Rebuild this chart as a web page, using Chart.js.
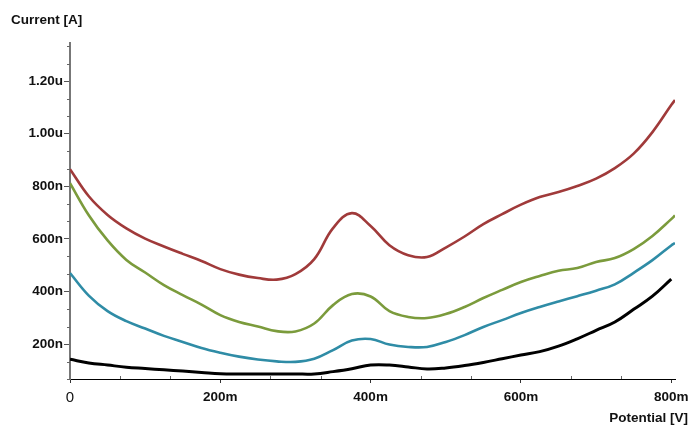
<!DOCTYPE html>
<html>
<head>
<meta charset="utf-8">
<script src="https://cdn.jsdelivr.net/npm/chart.js@4.4.0/dist/chart.umd.min.js"></script>
<style>
  body { margin: 0; background: #fff; }
  canvas { display: block; }
</style>
</head>
<body>
<canvas id="ivChart" width="691" height="426"></canvas>
<script>
// potential in mV, currents in nA
var potential = [0,25,50,75,100,125,150,175,200,225,250,275,300,325,350,375,400,
                 425,450,475,500,525,550,575,600,625,650,675,700,725,750,775,800,805];

var curRed   = [865,762,691,640,601,571,543,516,485,464,451,445,466,523,641,698,649,
                576,538,531,567,609,656,694,730,759,778,801,829,869,924,1006,1109,1128];
var curGreen = [812,690,594,520,472,424,386,350,310,284,267,249,248,278,348,390,381,
                325,303,299,314,341,375,406,436,459,479,489,512,527,561,611,675,689];
var curBlue  = [470,384,325,287,259,231,208,185,167,152,141,134,132,144,177,213,219,
                198,189,189,208,234,265,291,318,341,362,382,403,427,471,519,575,584];
var curBlack = [142,128,120,112,107,102,97,92,87,86,86,86,86,86,95,106,120,
                120,113,105,109,118,130,144,158,171,192,220,252,284,332,382,447,null];

var xTicks = [0,200,400,600,800];
var yTicks = [200,400,600,800,1000,1200];

var FONT = "'Liberation Sans', Arial, sans-serif";

function mkSet(vals, color, w){
  return {
    data: vals,
    borderColor: color,
    borderWidth: w,
    pointRadius: 0,
    fill: false,
    tension: 0.4,
    spanGaps: false
  };
}

// minor ticks + axis titles
var decor = {
  id: 'decor',
  afterDraw: function(chart){
    var c = chart.ctx, xs = chart.scales.x, ys = chart.scales.y;
    var step = 200/3;
    c.save();
    c.strokeStyle = '#666';
    c.lineWidth = 1;
    for (var k = 1; k * step < 805; k++) {
      if (k % 3 == 0) continue;
      var px = Math.round(xs.getPixelForValue(k*step)) + 0.5;
      c.beginPath(); c.moveTo(px, xs.top); c.lineTo(px, xs.top - 3); c.stroke();
    }
    for (var j = 1; j * step < 1340; j++) {
      if (j % 3 == 0) continue;
      var py = Math.round(ys.getPixelForValue(j*step)) + 0.5;
      c.beginPath(); c.moveTo(ys.right - 3, py); c.lineTo(ys.right, py); c.stroke();
    }
    c.fillStyle = '#111';
    c.font = 'bold 13.5px ' + FONT;
    c.textBaseline = 'alphabetic';
    c.textAlign = 'left';
    c.fillText('Current [A]', 11, 24);
    c.textAlign = 'right';
    c.fillText('Potential [V]', 688, 422);
    c.restore();
  }
};

new Chart(document.getElementById('ivChart'), {
  type: 'line',
  data: {
    labels: potential,
    datasets: [
      mkSet(curRed,   '#a03a3a', 2.6),
      mkSet(curGreen, '#7b9b3c', 2.6),
      mkSet(curBlue,  '#2f8ca6', 2.6),
      mkSet(curBlack, '#000000', 3)
    ]
  },
  plugins: [decor],
  options: {
    responsive: false,
    animation: false,
    layout: { padding: { left: 0, right: 16, top: 43, bottom: 0 } },
    plugins: { legend: { display: false }, tooltip: { enabled: false } },
    scales: {
      x: {
        type: 'linear',
        min: 0, max: 805,
        border: { color: '#000', width: 1 },
        grid: { drawOnChartArea: false, drawTicks: true, tickLength: 4, color: '#333' },
        afterBuildTicks: function(s){ s.ticks = xTicks.map(function(v){ return {value: v}; }); },
        afterFit: function(s){ s.height = 47; s.paddingLeft = 0; s.paddingRight = 0; },
        ticks: {
          maxRotation: 0,
          padding: 6,
          color: '#111',
          font: function(ctx){
            if (ctx.tick && ctx.tick.value === 0) return { family: FONT, size: 15, weight: 'normal' };
            return { family: FONT, size: 13.5, weight: 'bold' };
          },
          callback: function(v){ return v === 0 ? '0' : v + 'm'; }
        }
      },
      y: {
        min: 67, max: 1345,
        border: { color: '#777', width: 2 },
        grid: { drawOnChartArea: false, drawTicks: true, tickLength: 6, color: '#555' },
        afterBuildTicks: function(s){ s.ticks = yTicks.map(function(v){ return {value: v}; }); },
        afterFit: function(s){ s.width = 70; s.paddingTop = 0; s.paddingBottom = 0; },
        ticks: {
          padding: 1,
          color: '#111',
          font: { family: FONT, size: 13.5, weight: 'bold' },
          callback: function(v){ return v >= 1000 ? (v/1000).toFixed(2) + 'u' : v + 'n'; }
        }
      }
    }
  }
});
</script>
</body>
</html>
